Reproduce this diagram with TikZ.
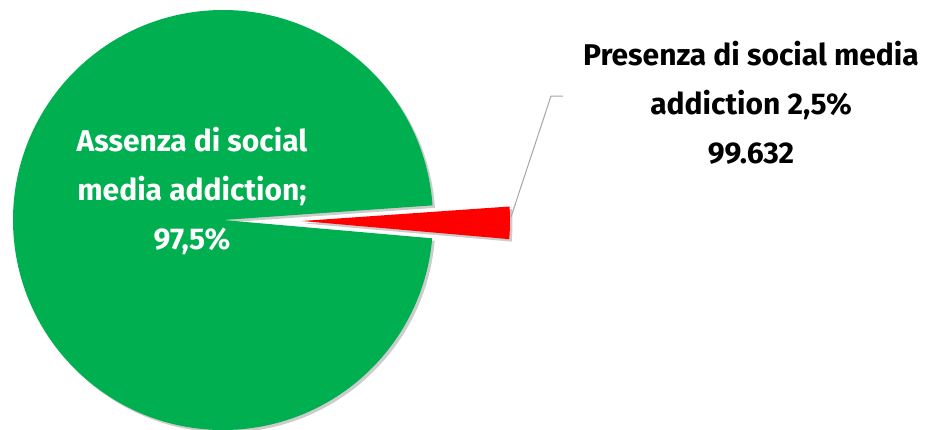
\documentclass[tikz,border=0pt]{standalone}
\usepackage{fontspec}
\setmainfont{Fira Sans}
\usetikzlibrary{shadows}
\definecolor{piegreen}{HTML}{00AF50}
\definecolor{piered}{HTML}{FF0000}
\definecolor{leadergray}{HTML}{A6A6A6}

\begin{document}
\begin{tikzpicture}
  [x=1pt,y=1pt,
   slice/.style={drop shadow={shadow xshift=2.5pt,shadow yshift=-2.5pt,opacity=.2,fill=black}},
   label/.style={align=center,font=\bfseries\fontsize{30}{49}\selectfont}]
  \useasboundingbox (0,0) rectangle (926,-429);

  \coordinate (c1) at (223,-220);
  \coordinate (c2) at (302,-221);

  \fill[slice,piegreen] (c1) -- ++(4:210) arc[start angle=4,end angle=355,radius=210] -- cycle;
  \fill[slice,piered] (c2) -- ++(-5:208) arc[start angle=-5,end angle=4,radius=208] -- cycle;

  \node[label,text=white] (lbl1) at (192,-191) {Assenza di social\\media addiction;\\97,5\%};
  \node[label,text=black] (lbl2) at (751,-103) {Presenza di social media\\addiction 2,5\%\\99.632};

  \coordinate (p1) at (511,-217);
  \coordinate (p2) at (551,-96);
  \coordinate (p3) at (563,-96);
  \draw[leadergray,line width=1pt] (p1) -- (p2) -- (p3);

\end{tikzpicture}
\end{document}
